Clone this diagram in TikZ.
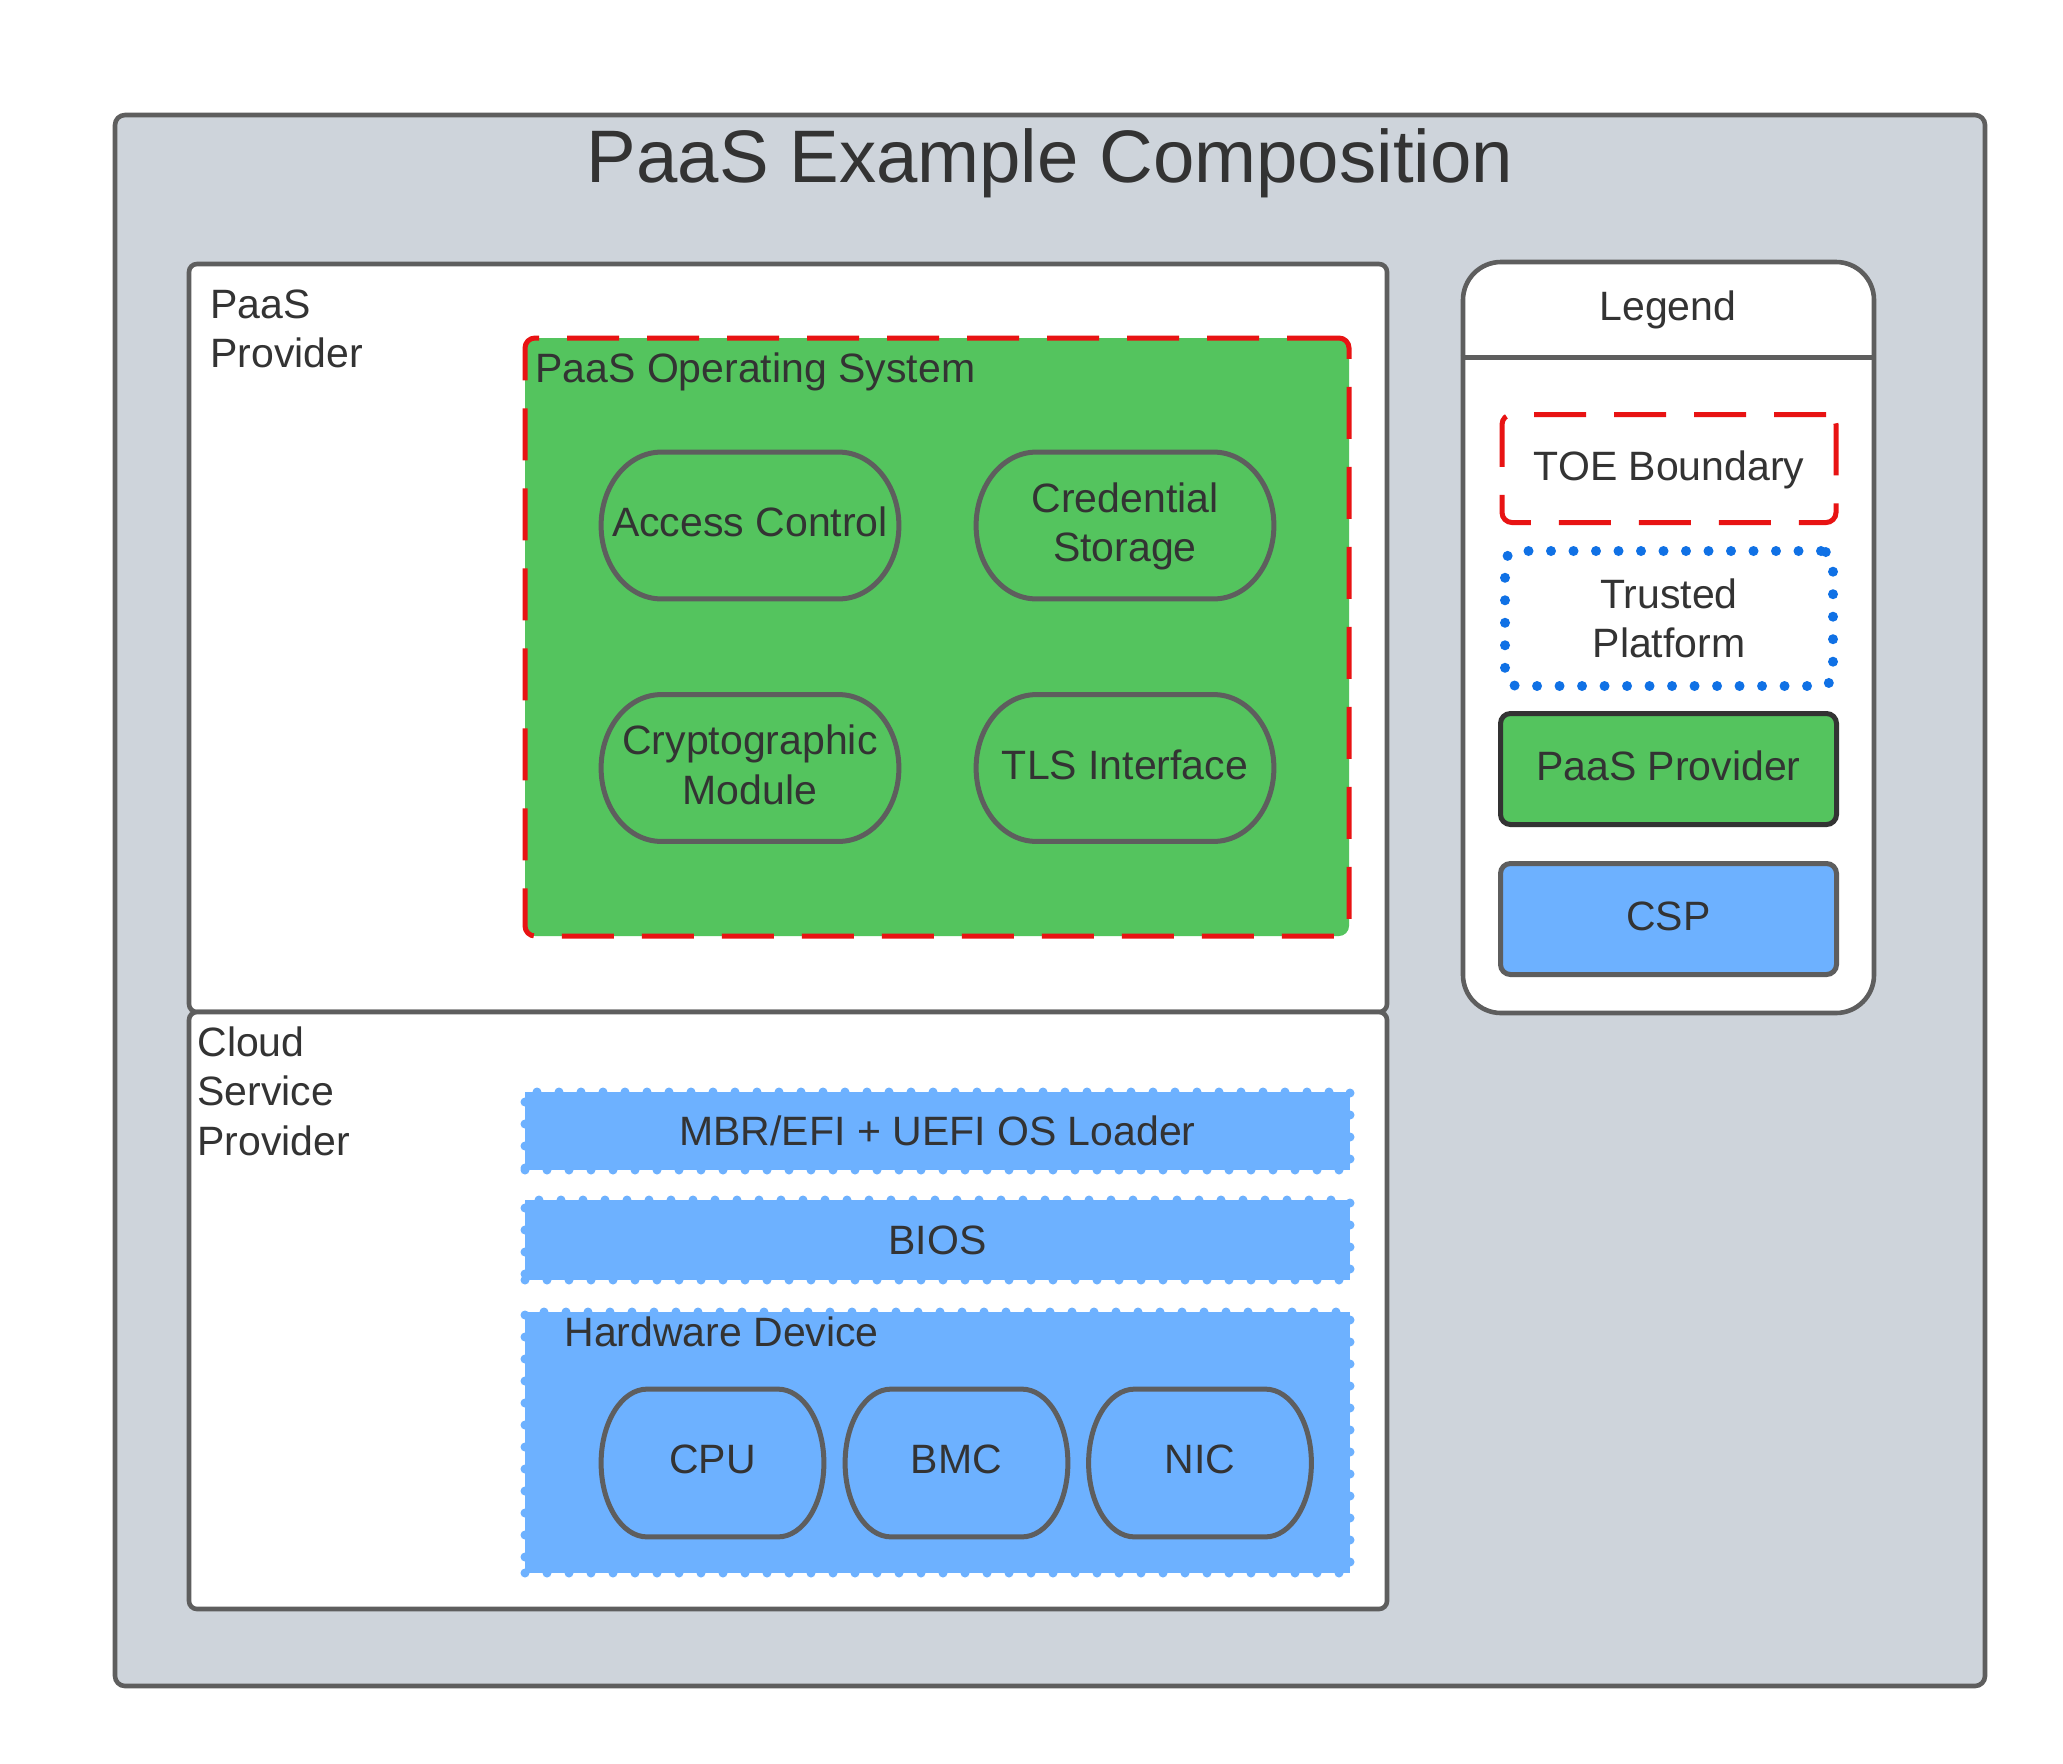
\documentclass[tikz,border=0pt]{standalone}
\usepackage{fontspec}
\setmainfont{Liberation Sans}
\usepackage{xcolor}
\usetikzlibrary{calc}

\definecolor{canvasgray}{HTML}{CED4DB}
\definecolor{edgegray}{HTML}{5E5E5E}
\definecolor{inkgray}{HTML}{333333}
\definecolor{paasgreen}{HTML}{54C45E}
\definecolor{cspblue}{HTML}{6DB1FF}
\definecolor{toered}{HTML}{E81313}
\definecolor{trustblue}{HTML}{1071E5}

% outline of a terminator shape round a named node: node, end radius
\newcommand{\pillrim}[2]{%
  \draw[pillline] let \p1=(#1.north west), \p2=(#1.south east), \n1={(\y1-\y2)/2} in
    (\x1+#2,\y1) -- (\x2-#2,\y1)
    arc[start angle=90, end angle=-90, x radius=#2, y radius=\n1]
    -- (\x1+#2,\y2)
    arc[start angle=270, end angle=90, x radius=#2, y radius=\n1] -- cycle;}

\tikzset{
  every node/.style={text=inkgray, font=\fontsize{20.5}{24.8}\selectfont, inner sep=0pt},
  boxline/.style={draw=edgegray, line width=2.3pt},
  canvasbox/.style={boxline, fill=canvasgray, rounded corners=5pt},
  layerbox/.style={boxline, fill=white, rounded corners=4pt, minimum width=599pt},
  toebox/.style={draw=toered, line width=2.5pt, dash pattern=on 26pt off 14pt, rounded corners=5pt},
  bandbox/.style={fill=cspblue, draw=cspblue, line width=4.5pt, line cap=round,
    dash pattern=on 0pt off 11pt, minimum width=412.5pt},
  pill/.style={text depth=0.35em, align=center},
  pillline/.style={draw=edgegray, line width=2.5pt},
  keybox/.style={line width=2.5pt, rounded corners=5pt, text depth=0.3em, align=center},
}

\begin{document}
\begin{tikzpicture}[x=0.5pt, y=-0.5pt]
  \useasboundingbox (0,0) rectangle (2063,1763);

  % outer frame and title
  \node[canvasbox, minimum width=935pt, minimum height=785.5pt] (canvas) at (1050,900.5) {};
  \node[anchor=base, font=\fontsize{37.2}{44}\selectfont] (title) at (1050,182) {PaaS Example Composition};

  % the two provider layers
  \node[layerbox, minimum height=374pt] (paas) at (788,638) {};
  \node[layerbox, minimum height=298.5pt] (csp) at (788,1310.5) {};
  \node[anchor=north west, align=left] (paaslabel) at (210,289) {PaaS\\Provider};
  \node[anchor=north west, align=left] (csplabel) at (197,1026) {Cloud\\Service\\Provider};

  % PaaS operating system (TOE)
  \node[toebox, fill=paasgreen, minimum width=412pt, minimum height=299pt] (os) at (937,637) {};
  \node[anchor=north west] (oslabel) at (535,352) {PaaS Operating System};
  \node[pill, minimum width=148.5pt, minimum height=73pt] (access) at (750,525.5) {Access Control};
  \node[pill, minimum width=148.5pt, minimum height=73pt] (cred) at (1125,525.5) {Credential\\Storage};
  \node[pill, minimum width=148.5pt, minimum height=73pt] (crypto) at (750,768) {Cryptographic\\Module};
  \node[pill, minimum width=148.5pt, minimum height=73pt] (tls) at (1125,768) {TLS Interface};
  \foreach \part in {access,cred,crypto,tls}
    \pillrim{\part}{30pt};

  % trusted platform layers
  \node[bandbox, minimum height=39pt] (loader) at (937.5,1131) {MBR/EFI + UEFI OS Loader};
  \node[bandbox, minimum height=40pt] (bios) at (937.5,1240) {BIOS};
  \node[bandbox, minimum height=130.5pt] (hw) at (937.5,1442.5) {};
  \node[anchor=north west] (hwlabel) at (564,1316) {Hardware Device};
  \foreach \chip/\cx/\chiptext in {cpu/712.5/CPU, bmc/956.5/BMC, nic/1200/NIC}{
    \node[pill, minimum width=111pt, minimum height=73.5pt] (\chip) at (\cx,1463) {\chiptext};
    \pillrim{\chip}{23pt}
  }

  % legend
  \node[boxline, fill=white, rounded corners=19pt, minimum width=205.5pt, minimum height=375.5pt] (legend) at (1668.5,637.5) {};
  \draw[boxline] ([yshift=-49pt]legend.north west) -- ([yshift=-49pt]legend.north east);
  \node[anchor=north] (legendtitle) at (1668,290) {Legend};
  \node[toebox, fill=white, text depth=0.3em, minimum width=167pt, minimum height=54pt] (toekey) at (1669,468.5) {TOE Boundary};
  \node[draw=trustblue, fill=white, line width=5pt, line cap=round, dash pattern=on 0pt off 11.25pt,
    rounded corners=6pt, align=center, minimum width=164pt, minimum height=67.5pt] (trustkey) at (1669,618.5) {Trusted\\Platform};
  \node[keybox, draw=inkgray, fill=paasgreen, minimum width=168pt, minimum height=55.5pt] (paaskey) at (1668.5,769) {PaaS Provider};
  \node[keybox, draw=edgegray, fill=cspblue, minimum width=168pt, minimum height=55.5pt] (cspkey) at (1668.5,919) {CSP};
\end{tikzpicture}
\end{document}
